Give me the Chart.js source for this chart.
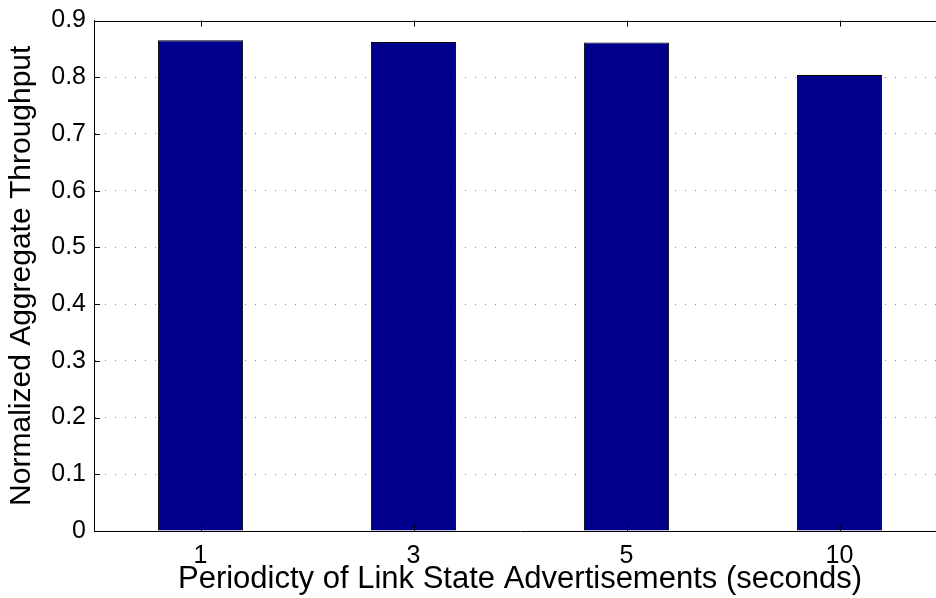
<!DOCTYPE html>
<html>
<head>
<meta charset="utf-8">
<script src="https://cdn.jsdelivr.net/npm/chart.js@4/dist/chart.umd.min.js"></script>
<style>
  html, body { margin: 0; padding: 0; background: #fff; overflow: hidden; }
  #wrap { width: 950px; height: 598px; }
</style>
</head>
<body>
<div id="wrap"><canvas id="chart" width="950" height="598"></canvas></div>
<script>
const categories = ['1', '3', '5', '10'];
const throughput = [0.865, 0.862, 0.861, 0.804];
const yTicks = [0, 0.1, 0.2, 0.3, 0.4, 0.5, 0.6, 0.7, 0.8, 0.9];

const xTitle = 'Periodicty of Link State Advertisements (seconds)';
const yTitle = 'Normalized Aggregate Throughput';

const fontFamily = '"Liberation Sans", Arial, Helvetica, sans-serif';

// matlab-style inward ticks plus the top frame line
const frame = {
    id: 'frame',
    afterDraw(chart) {
        const { ctx, chartArea, scales } = chart;
        const len = 6;
        ctx.save();
        ctx.strokeStyle = '#000';
        ctx.lineWidth = 1;
        ctx.beginPath();
        ctx.moveTo(chartArea.left, Math.round(chartArea.top) + 0.5);
        ctx.lineTo(chartArea.right, Math.round(chartArea.top) + 0.5);
        yTicks.forEach((v) => {
            const y = Math.round(scales.y.getPixelForValue(v)) + 0.5;
            ctx.moveTo(chartArea.left, y);
            ctx.lineTo(chartArea.left + len, y);
        });
        categories.forEach((c, i) => {
            const x = Math.round(scales.x.getPixelForValue(i)) + 0.5;
            ctx.moveTo(x, chartArea.bottom);
            ctx.lineTo(x, chartArea.bottom - len);
            ctx.moveTo(x, chartArea.top);
            ctx.lineTo(x, chartArea.top + len);
        });
        ctx.stroke();
        ctx.restore();
    },
};

new Chart(document.getElementById('chart'), {
    type: 'bar',
    data: {
        labels: categories,
        datasets: [{
            data: throughput,
            backgroundColor: '#00008c',
            borderColor: '#000',
            borderWidth: 1,
            categoryPercentage: 1,
            barPercentage: 0.4,
        }],
    },
    options: {
        responsive: false,
        animation: false,
        layout: { padding: { top: 19, left: 0, right: 4, bottom: 0 } },
        plugins: { legend: { display: false }, tooltip: { enabled: false } },
        scales: {
            x: {
                offset: true,
                grid: { display: false, drawTicks: false },
                border: { display: true, color: '#000', width: 1 },
                ticks: { color: '#000', font: { family: fontFamily, size: 25 }, padding: 10 },
                title: {
                    display: true, text: xTitle, color: '#000',
                    font: { family: fontFamily, size: 31 }, padding: { top: -9, bottom: 0 },
                },
                afterFit(scale) { scale.height = 67; },
            },
            y: {
                min: 0,
                max: 0.9,
                afterBuildTicks(scale) { scale.ticks = yTicks.map((v) => ({ value: v })); },
                grid: {
                    drawTicks: false,
                    color: (c) => (c.tick && (c.tick.value === 0 || c.tick.value === 0.9) ? 'rgba(0,0,0,0)' : '#888'),
                },
                border: { display: true, color: '#000', width: 1, dash: [1, 9] },
                ticks: {
                    color: '#000',
                    font: { family: fontFamily, size: 25, lineHeight: 1 },
                    padding: 8,
                    callback: (v) => (v === 0 ? '0' : v.toFixed(1)),
                },
                title: {
                    display: true, text: yTitle, color: '#000',
                    font: { family: fontFamily, size: 30 }, padding: { top: 4, bottom: 0 },
                },
                afterFit(scale) { scale.width = 94; },
            },
        },
    },
    plugins: [frame],
});
</script>
</body>
</html>
